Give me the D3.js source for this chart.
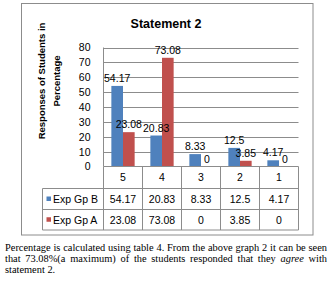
<!DOCTYPE html>
<html><head><meta charset="utf-8">
<script src="https://cdn.jsdelivr.net/npm/d3@7"></script>
<style>
body{margin:0;background:#fff;width:330px;height:282px;overflow:hidden;position:relative;}
svg{position:absolute;left:0;top:0;}
.cap{position:absolute;left:5px;width:322px;font-family:"Liberation Serif","Times New Roman",serif;font-size:10.4px;line-height:10.8px;color:#000;}
.cap div{text-align:justify;text-align-last:justify;white-space:nowrap;}
.cap div.last{text-align-last:left;}
</style></head>
<body>
<script>
const categories = ["5","4","3","2","1"];
const seriesNames = ["Exp Gp B","Exp Gp A"];
const expGpB = [54.17,20.83,8.33,12.5,4.17];
const expGpA = [23.08,73.08,0,3.85,0];
const yTicks = [0,10,20,30,40,50,60,70,80];
const seriesColors = ["#4F81BD","#C0504D"];
const title = "Statement 2";
const yTitle = ["Responses of Students in","Percentage"];
const captionLines = [
  "Percentage is calculated using table 4. From the above graph 2 it can be seen",
  "that 73.08%(a maximum) of the students responded that they <i>agree</i> with",
  "statement 2."
];

(function(){
const seriesValues = [expGpB, expGpA];
const W=330,H=282;
const font = '"Liberation Sans", Arial, sans-serif';
const svg = d3.select("body").append("svg").attr("width",W).attr("height",H);

svg.append("rect").attr("x",21.5).attr("y",3.5).attr("width",291.5).attr("height",231.5)
  .attr("fill","none").attr("stroke","#8c8c8c").attr("stroke-width",1);

const pLeft=103.5, pRight=298.5, pTop=47.5, pBottom=166.5;
const x = d3.scaleBand().domain(categories).range([pLeft,pRight]).padding(0);
const x1 = d3.scaleBand().domain(seriesNames).range([0,x.bandwidth()]).paddingInner(0).paddingOuter(0.675);
const y = d3.scaleLinear().domain([0,80]).range([pBottom,pTop]);

svg.append("g").selectAll("line").data(yTicks.filter(d=>d>0)).join("line")
  .attr("x1",pLeft).attr("x2",pRight).attr("y1",d=>Math.round(y(d))+0.5).attr("y2",d=>Math.round(y(d))+0.5)
  .attr("stroke","#8c8c8c");
svg.append("line").attr("x1",pLeft).attr("x2",pLeft).attr("y1",pTop).attr("y2",pBottom).attr("stroke","#8c8c8c");

const yAxis = d3.axisLeft(y).tickValues(yTicks).tickSize(0).tickPadding(13);
const ga = svg.append("g").attr("transform",`translate(${pLeft},0)`).call(yAxis);
ga.select(".domain").remove();
ga.selectAll("text").attr("font-family",font).attr("font-size",10.5).attr("fill","#000");

const barLayer = svg.append("g");
const labelLayer = svg.append("g");
categories.forEach((c,ci)=>{
  seriesNames.forEach((s,si)=>{
    const v=seriesValues[si][ci];
    const bx = x(c)+x1(s);
    barLayer.append("rect").attr("x",bx).attr("width",x1.bandwidth())
      .attr("y",y(v)).attr("height",y(0)-y(v)).attr("fill",seriesColors[si]);
    labelLayer.append("text").attr("x",bx+x1.bandwidth()/2).attr("y",y(v)-4)
      .attr("text-anchor","middle").attr("font-family",font).attr("font-size",10.5)
      .attr("fill","#000").text(v);
  });
});

svg.append("text").attr("x",166).attr("y",28).attr("text-anchor","middle")
  .attr("font-family",font).attr("font-weight","bold").attr("font-size",12.5).text(title);

yTitle.forEach((t,i)=>{
  svg.append("text").attr("transform",`translate(${45+i*15},81) rotate(-90)`)
    .attr("text-anchor","middle").attr("font-family",font).attr("font-weight","bold")
    .attr("font-size",9.5).text(t);
});

const rowTop=[pBottom,188,209,229.5];
const tLeft=42.5;
const lc="#8c8c8c";
svg.append("line").attr("x1",pLeft).attr("x2",pRight).attr("y1",rowTop[0]).attr("y2",rowTop[0]).attr("stroke",lc);
rowTop.slice(1).forEach(yy=>{
  svg.append("line").attr("x1",tLeft).attr("x2",pRight).attr("y1",yy+0.5).attr("y2",yy+0.5).attr("stroke",lc);
});
const colEdges = categories.map(c=>x(c)).concat([pRight]);
colEdges.forEach(xx=>{
  svg.append("line").attr("x1",Math.floor(xx)+0.5).attr("x2",Math.floor(xx)+0.5)
    .attr("y1",rowTop[0]).attr("y2",rowTop[3]+0.5).attr("stroke",lc);
});
svg.append("line").attr("x1",tLeft).attr("x2",tLeft).attr("y1",rowTop[1]+0.5).attr("y2",rowTop[3]+0.5).attr("stroke",lc);
svg.append("g").selectAll("text").data(categories).join("text")
  .attr("x",d=>x(d)+x.bandwidth()/2).attr("y",(rowTop[0]+rowTop[1])/2+4)
  .attr("text-anchor","middle").attr("font-family",font).attr("font-size",10.5).text(d=>d);
seriesNames.forEach((s,si)=>{
  const cy=(rowTop[si+1]+rowTop[si+2])/2+0.5;
  svg.append("rect").attr("x",46.5).attr("y",cy-2.5).attr("width",4.5).attr("height",4.5).attr("fill",seriesColors[si]);
  svg.append("text").attr("x",53).attr("y",cy+4).attr("font-family",font).attr("font-size",10.5).text(s);
  categories.forEach((c,ci)=>{
    svg.append("text").attr("x",x(c)+x.bandwidth()/2).attr("y",cy+4).attr("text-anchor","middle")
      .attr("font-family",font).attr("font-size",10.5).text(seriesValues[si][ci]);
  });
});

const cap = d3.select("body").append("div").attr("class","cap").style("top","243px");
captionLines.forEach((l,i)=>{
  cap.append("div").classed("last",i===captionLines.length-1).html(l);
});
})();
</script>
</body></html>
